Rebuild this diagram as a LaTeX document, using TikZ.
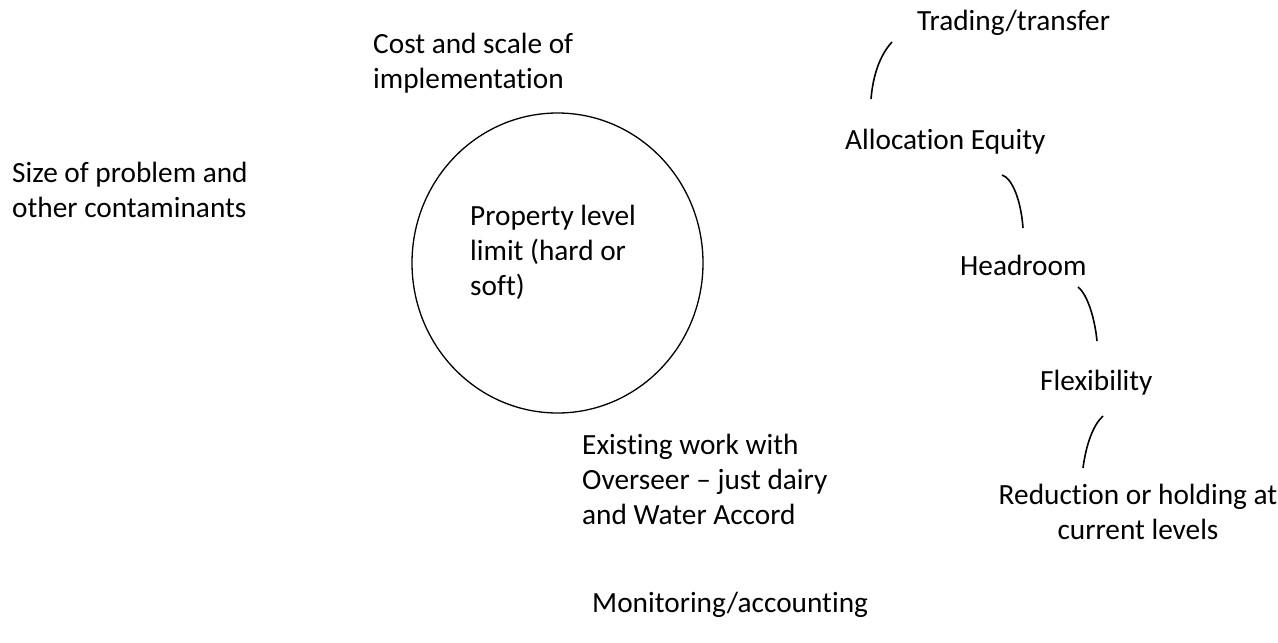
\documentclass[tikz,border=0pt]{standalone}
\usepackage{fontspec}
\usetikzlibrary{shapes.geometric}
\setmainfont{Carlito}[Ligatures={TeX,NoCommon}]
\begin{document}
\begin{tikzpicture}[x=1pt,y=-1pt,
    lbl/.style={inner sep=0pt,align=left,anchor=west,font=\fontsize{29.3}{35}\selectfont},
    arcline/.style={line width=1.6pt}]
    \useasboundingbox (0,0) rectangle (1278,643);

    % Coordinates of the little arcs
    \coordinate (A1) at (871,99);
    \coordinate (A2) at (892,42);
    \coordinate (B1) at (1002,175);
    \coordinate (B2) at (1023,228);
    \coordinate (C1) at (1078,287);
    \coordinate (C2) at (1097,341);
    \coordinate (D1) at (1083,468);
    \coordinate (D2) at (1103,416);

    % The circle
    \node[draw,ellipse,minimum width=291pt,minimum height=300pt,line width=1.3pt,inner sep=0pt] (limit) at (557.5,263) {};
    \node[lbl] (prop) at (470,252) {Property level\\limit (hard or\\soft)};

    % Left and middle texts
    \node[lbl] (size) at (12,189.5) {Size of problem and\\other contaminants};
    \node[lbl] (cost) at (373,63) {Cost and scale of\\implementation};
    \node[lbl] (exist) at (582,479) {Existing work with\\Overseer -- just dairy\\and Water Accord};
    \node[lbl] (monit) at (592,605) {Monitoring/accounting};

    % The chain on the right
    \node[lbl] (trade) at (917,23) {Trading/transfer};
    \node[lbl] (alloc) at (845,142) {Allocation Equity};
    \node[lbl] (head) at (960,265) {Headroom};
    \node[lbl] (flex) at (1040,383) {Flexibility};
    \node[lbl,align=center,anchor=center] (reduc) at (1138,511.5) {Reduction or holding at\\current levels};

    \draw[arcline] (A1) .. controls (873,75) and (880,55) .. (A2);
    \draw[arcline] (B1) .. controls (1012,178) and (1021,200) .. (B2);
    \draw[arcline] (C1) .. controls (1088,295) and (1095,320) .. (C2);
    \draw[arcline] (D1) .. controls (1086,445) and (1093,425) .. (D2);
\end{tikzpicture}
\end{document}
